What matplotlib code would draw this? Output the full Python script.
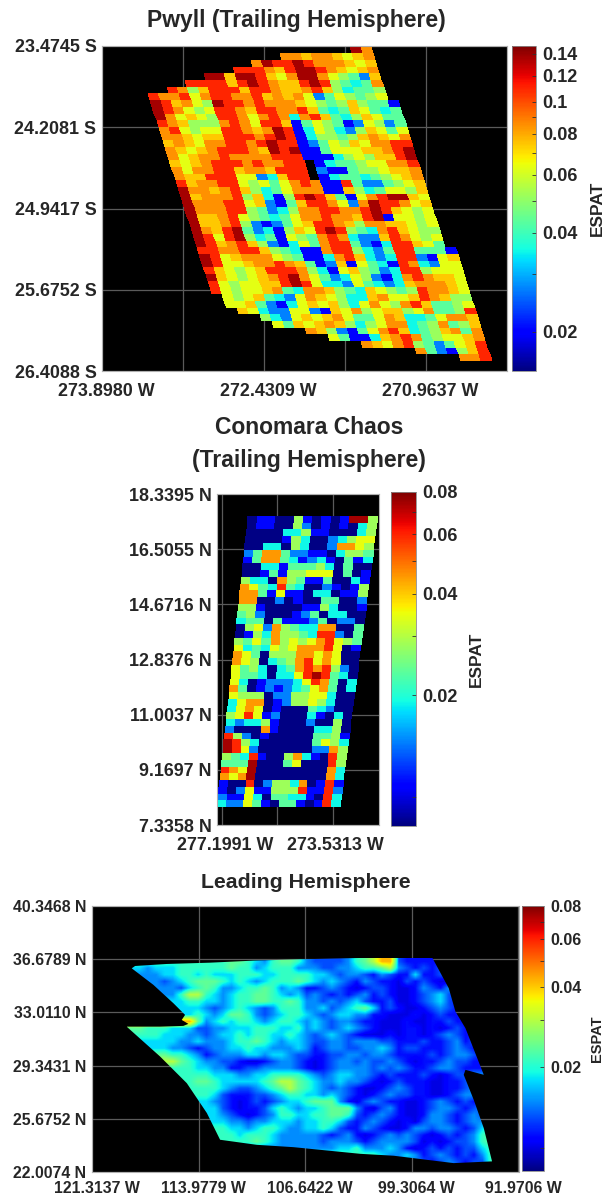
import numpy as np
import matplotlib
matplotlib.use("Agg")
import matplotlib.pyplot as plt
from matplotlib.colors import LogNorm
from matplotlib.patches import Polygon
from matplotlib.transforms import ScaledTranslation

plt.rcParams['font.family'] = ['Liberation Sans', 'DejaVu Sans']
plt.rcParams['font.weight'] = 'bold'

W, H = 609, 1196
TXT = '#262626'

# digit codes per cell, '.' = no data. value of each code is in the *_levels list
pwyll_levels = [0.0200, 0.0269, 0.0352, 0.0431, 0.0518, 0.0636, 0.0745, 0.0850, 0.1095, 0.1370]
pwyll_start = [21, 14, 11, 9, 6, 4, 2] + [0] * 30 + [1, 1, 2, 4, 5, 8, 10, 13, 18, 22]
pwyll_rows = [
    "97", "776776567", "798898777656", "88876899876567", "99699865799754316",
    "8888689876689843237", "874688868876678642334", "87785788778676751354345",
    "986754988787776543464330", "987545887688778632365323", "975654887578727863246533",
    "876444787588603543015413", "785455887679802542146535", "776566888789802443467657",
    "676577887898801354657788", "765678887698900355566789", "756778777788800024546689",
    "6567888787788.0233455778", "7577886776888.1003445667", "7668885512688.0233234567",
    "867788545357870083113456", "977678642357770064235546", "967778462048986305789965",
    "977788561036887517988756", "977788431247788778986545", "966785432357787768905545",
    "966784101356887647766545", "976893120465898432786544", "985894230543787211687545",
    "986786410253788310288653", "8877886432007884213883330", "9856777543002786212881056",
    "9855677876301605320872155", "8654568887420564312884555", "9654567897531254102787665",
    "8545566898522153212677765", "8545567327764326543487765", "545632157654226755687644",
    "556310256564257547863345", "65211551065745664573348", "421565675335762235776",
    "53656764245772347346", "76410357862346737", "530026787345567", "765784313568",
    "7310468", "778",
]
pwyll_xticks = [273.8980, 273.1645, 272.4309, 271.6973, 270.9637, 270.2301]
pwyll_xlabels = ['273.8980 W', '', '272.4309 W', '', '270.9637 W', '']
pwyll_yticks = [23.4745, 24.2081, 24.9417, 25.6752, 26.4088]
pwyll_ylabels = ['23.4745 S', '24.2081 S', '24.9417 S', '25.6752 S', '26.4088 S']
pwyll_cticks = [0.02, 0.03, 0.04, 0.05, 0.06, 0.07, 0.08, 0.09, 0.1, 0.12, 0.14]
pwyll_clabels = ['0.02', '', '0.04', '', '0.06', '', '0.08', '', '0.1', '0.12', '0.14']

conomara_levels = [0.0083, 0.0110, 0.0145, 0.0190, 0.0233, 0.0280, 0.0344, 0.0451, 0.0592, 0.0743]
conomara_rows = [
    "01100510101995", "01100520101035", "00003351100035", "00001530023566", "00330530027765",
    "24774221103554", "14774312310413", "00331444530400", "00141556660401", "53307541140031",
    "76438430021015", "77416110330115", "77002010044002", "55100001153001", "45200012403300",
    "34404111240220", "05627543377004", "01537554388204", "54647565678654", "63436567778601",
    "76405557767600", "76503457867600", "64530347878520", "64430336898430", "63012223687403",
    "74012123467403", "65550225566300", "36770125565300", "36760100043200", "56861200031030",
    "32335100020050", "20007100003350", "85201000004451", "98530000004653", "98620000002275",
    "54381005731085", "44490004600085", "87690000000073", "76790000000073", "10080255370181",
    "10261155581182", "21163044331083", "32264104410183",
]
conomara_xticks = [277.1991, 275.3652, 273.5313]
conomara_xlabels = ['277.1991 W', '', '273.5313 W']
conomara_yticks = [7.3358, 9.1697, 11.0037, 12.8376, 14.6716, 16.5055, 18.3395]
conomara_ylabels = ['7.3358 N', '9.1697 N', '11.0037 N', '12.8376 N', '14.6716 N', '16.5055 N', '18.3395 N']

low_cticks = [0.01, 0.02, 0.03, 0.04, 0.05, 0.06, 0.07, 0.08]
low_clabels = ['', '0.02', '', '0.04', '', '0.06', '', '0.08']

leading_levels = [0.0100, 0.0112, 0.0130, 0.0150, 0.0178, 0.0210, 0.0238, 0.0300, 0.0420, 0.0592]
leading_start = [10, 0, 2, 3, 4, 5, 6, 7, 7, 7, 0, 1, 2, 3, 4, 5, 5, 7, 7, 8, 9, 9, 10, 10, 11, 11, 12, 12, 20, 28, 34]
leading_rows = [
    "556654356653222235678821111", "44344455555565534555333223345567321212",
    "334455454445554455554432332132114112", "323456665454345556543432132110212100",
    "33245653345565343112321012210013213", "35775434556654342321212312100123422",
    "4554434556655653323234211200123421", "443234543235553342345641210012321",
    "4543466532345543234433110001012111", "8634545543455434323321100010011211",
    "665554442233444555445343234321000110101211", "55544433234454554454323432100010110123211",
    "44443343334556543443223323332211121123121", "4433212334454433343123322334312211123212",
    "6554312333443443221122332332111121233211", "765433221001233210123323223210112322111",
    "555443311223333210123333232321123321110", "55544433445555432344332121112101223",
    "56654444456776543343321012111001123", "5554322345676543232100123211001123",
    "542111223455443432101232211001233", "4321012123445666310232110012321212",
    "421011245434456663102310012332123", "432101235544556652123210013321232",
    "43323344434455421232101023321233", "544345543344542113210013323321245",
    "54555433333212310123232101212356", "55565433333233321233332010122356",
    "333334453334310121212245", "5543343123212135", "3212321225",
]
# outline of the observed swath, lon / lat
leading_lon = [118.58, 118.35, 116.17, 113.19, 110.20, 106.99, 104.00, 100.56, 97.92, 96.77, 96.31, 95.62,
               94.36, 95.62, 95.74, 95.05, 94.36, 93.79, 96.43, 100.56, 102.85, 107.45, 109.97, 112.50,
               113.41, 114.79, 116.63, 118.93, 116.63, 115.03, 114.68, 115.14, 114.91, 115.71, 117.09]
leading_lat = [36.05, 36.21, 36.35, 36.44, 36.58, 36.67, 36.74, 36.81, 36.81, 34.68, 33.07, 31.92,
               28.71, 29.05, 28.71, 26.98, 25.03, 22.74, 22.62, 23.13, 23.26, 23.72, 23.88, 24.23,
               26.07, 28.13, 29.97, 32.03, 32.03, 32.08, 32.22, 32.49, 32.84, 33.64, 34.91]
leading_xticks = [121.3137, 113.9779, 106.6422, 99.3064, 91.9706]
leading_xlabels = ['121.3137 W', '113.9779 W', '106.6422 W', '99.3064 W', '91.9706 W']
leading_yticks = [22.0074, 25.6752, 29.3431, 33.0110, 36.6789, 40.3468]
leading_ylabels = ['22.0074 N', '25.6752 N', '29.3431 N', '33.0110 N', '36.6789 N', '40.3468 N']


def grid(rows, levels, start=None, ncols=None):
    if start is None:
        start = [0] * len(rows)
    if ncols is None:
        ncols = max(s + len(r) for s, r in zip(start, rows))
    out = np.full((len(rows), ncols), np.nan)
    for i, (s, r) in enumerate(zip(start, rows)):
        for j, ch in enumerate(r):
            if ch != '.' and s + j < ncols:
                out[i, s + j] = levels[int(ch)]
    return out


def fill_edges(vals):
    # extend each row sideways so bilinear smoothing has no holes at the clip edge
    for row in vals:
        ok = np.where(~np.isnan(row))[0]
        row[:ok[0]] = row[ok[0]]
        row[ok[-1] + 1:] = row[ok[-1]]
    return vals


def px_axes(fig, left, top, right, bottom):
    return fig.add_axes([left / W, 1 - bottom / H, (right - left) / W, (bottom - top) / H])


def style(ax, xticks, xlabels, yticks, ylabels, size, xpad, xshift):
    ax.set_facecolor('black')
    ax.set_xticks(xticks)
    ax.set_xticklabels(xlabels, fontsize=size, color=TXT, fontweight='bold')
    ax.set_yticks(yticks)
    ax.set_yticklabels(ylabels, fontsize=size, color=TXT, fontweight='bold')
    ax.grid(True, color='#5a5a5a', linewidth=0.9)
    ax.set_axisbelow(True)
    ax.tick_params(axis='y', length=0, pad=4)
    ax.tick_params(axis='x', length=0, pad=xpad)
    # the x labels sit a little right of their ticks in the original
    off = ScaledTranslation(xshift / 100, 0, ax.figure.dpi_scale_trans)
    for lab in ax.get_xticklabels():
        lab.set_transform(lab.get_transform() + off)
    for s in ax.spines.values():
        s.set_color('#b0b0b0')
        s.set_linewidth(0.8)


def colorbar(fig, m, box, ticks, labels, size, lab_size, pad):
    cax = px_axes(fig, *box)
    cb = fig.colorbar(m, cax=cax)
    cb.minorticks_off()
    cb.set_ticks(ticks)
    cb.set_ticklabels(labels)
    cax.tick_params(axis='y', which='both', direction='in', length=3, width=0.6, color='#303030',
                    labelsize=size, labelcolor=TXT, pad=4.5)
    cb.outline.set_edgecolor('#8a8a8a')
    cb.outline.set_linewidth(0.6)
    cb.set_label('ESPAT', fontsize=lab_size, fontweight='bold', color=TXT, labelpad=pad)


fig = plt.figure(figsize=(W / 100, H / 100), dpi=100)

# Pwyll
ax1 = px_axes(fig, 102, 46, 507, 371)
ax1.set_xlim(273.8980, 270.2301)
ax1.set_ylim(26.4088, 23.4745)
pw = grid(pwyll_rows, pwyll_levels, pwyll_start, 25)
c, r = np.meshgrid(np.arange(26), np.arange(48))
pw_lon = 273.616 - 0.0936 * c - 0.0193 * r
pw_lat = 23.480 + 0.0604 * r
m1 = ax1.pcolormesh(pw_lon, pw_lat, np.ma.masked_invalid(pw), cmap='jet',
                    norm=LogNorm(0.0152, 0.148), antialiased=False)
style(ax1, pwyll_xticks, pwyll_xlabels, pwyll_yticks, pwyll_ylabels, 12.9, 9, 4)
colorbar(fig, m1, (512, 46, 536, 371), pwyll_cticks, pwyll_clabels, 13, 12.5, 9)
fig.text(296 / W, 1 - 20 / H, 'Pwyll (Trailing Hemisphere)', ha='center', va='center',
         fontsize=16.5, color=TXT, fontweight='bold')

# Conomara
ax2 = px_axes(fig, 217, 494, 379, 825)
ax2.set_xlim(277.365, 271.993)
ax2.set_ylim(7.3358, 18.3395)
co = grid(conomara_rows, conomara_levels)
c, r = np.meshgrid(np.arange(15) / 14, np.arange(44) / 43)
co_left = 276.337 + (277.365 - 276.337) * r
co_right = 272.026 + (273.286 - 272.026) * r
co_lon = co_left + (co_right - co_left) * c
co_lat = 17.61 + (7.927 - 17.61) * r
m2 = ax2.pcolormesh(co_lon, co_lat, co, cmap='jet', norm=LogNorm(0.0082, 0.08), antialiased=False)
style(ax2, conomara_xticks, conomara_xlabels, conomara_yticks, conomara_ylabels, 12.9, 9, 3)
colorbar(fig, m2, (391, 492, 416, 826), low_cticks, low_clabels, 13, 12.5, 8)
fig.text(309 / W, 1 - 428 / H, 'Conomara Chaos', ha='center', va='center',
         fontsize=16.5, color=TXT, fontweight='bold')
fig.text(309 / W, 1 - 460 / H, '(Trailing Hemisphere)', ha='center', va='center',
         fontsize=16.5, color=TXT, fontweight='bold')

# Leading hemisphere
ax3 = px_axes(fig, 92, 906, 518.5, 1172)
le = fill_edges(grid(leading_rows, leading_levels, leading_start, 44))
m3 = ax3.imshow(le, cmap='jet', norm=LogNorm(0.0082, 0.08), interpolation='bilinear',
                extent=(118.93, 93.67, 22.51, 36.74), origin='upper', aspect='auto', zorder=2)
ax3.set_xlim(121.3137, 91.9706)
ax3.set_ylim(22.0074, 40.3468)
swath = Polygon(np.column_stack([leading_lon, leading_lat]), closed=True, transform=ax3.transData,
                facecolor='none', edgecolor='none')
ax3.add_patch(swath)
m3.set_clip_path(swath)
style(ax3, leading_xticks, leading_xlabels, leading_yticks, leading_ylabels, 11.4, 6.5, 5)
colorbar(fig, m3, (522, 906, 544, 1171), low_cticks, low_clabels, 11.5, 10.5, 6)
fig.text(306 / W, 1 - 883 / H, 'Leading Hemisphere', ha='center', va='center',
         fontsize=15.3, color=TXT, fontweight='bold')

fig.savefig('out.png', dpi=100)
